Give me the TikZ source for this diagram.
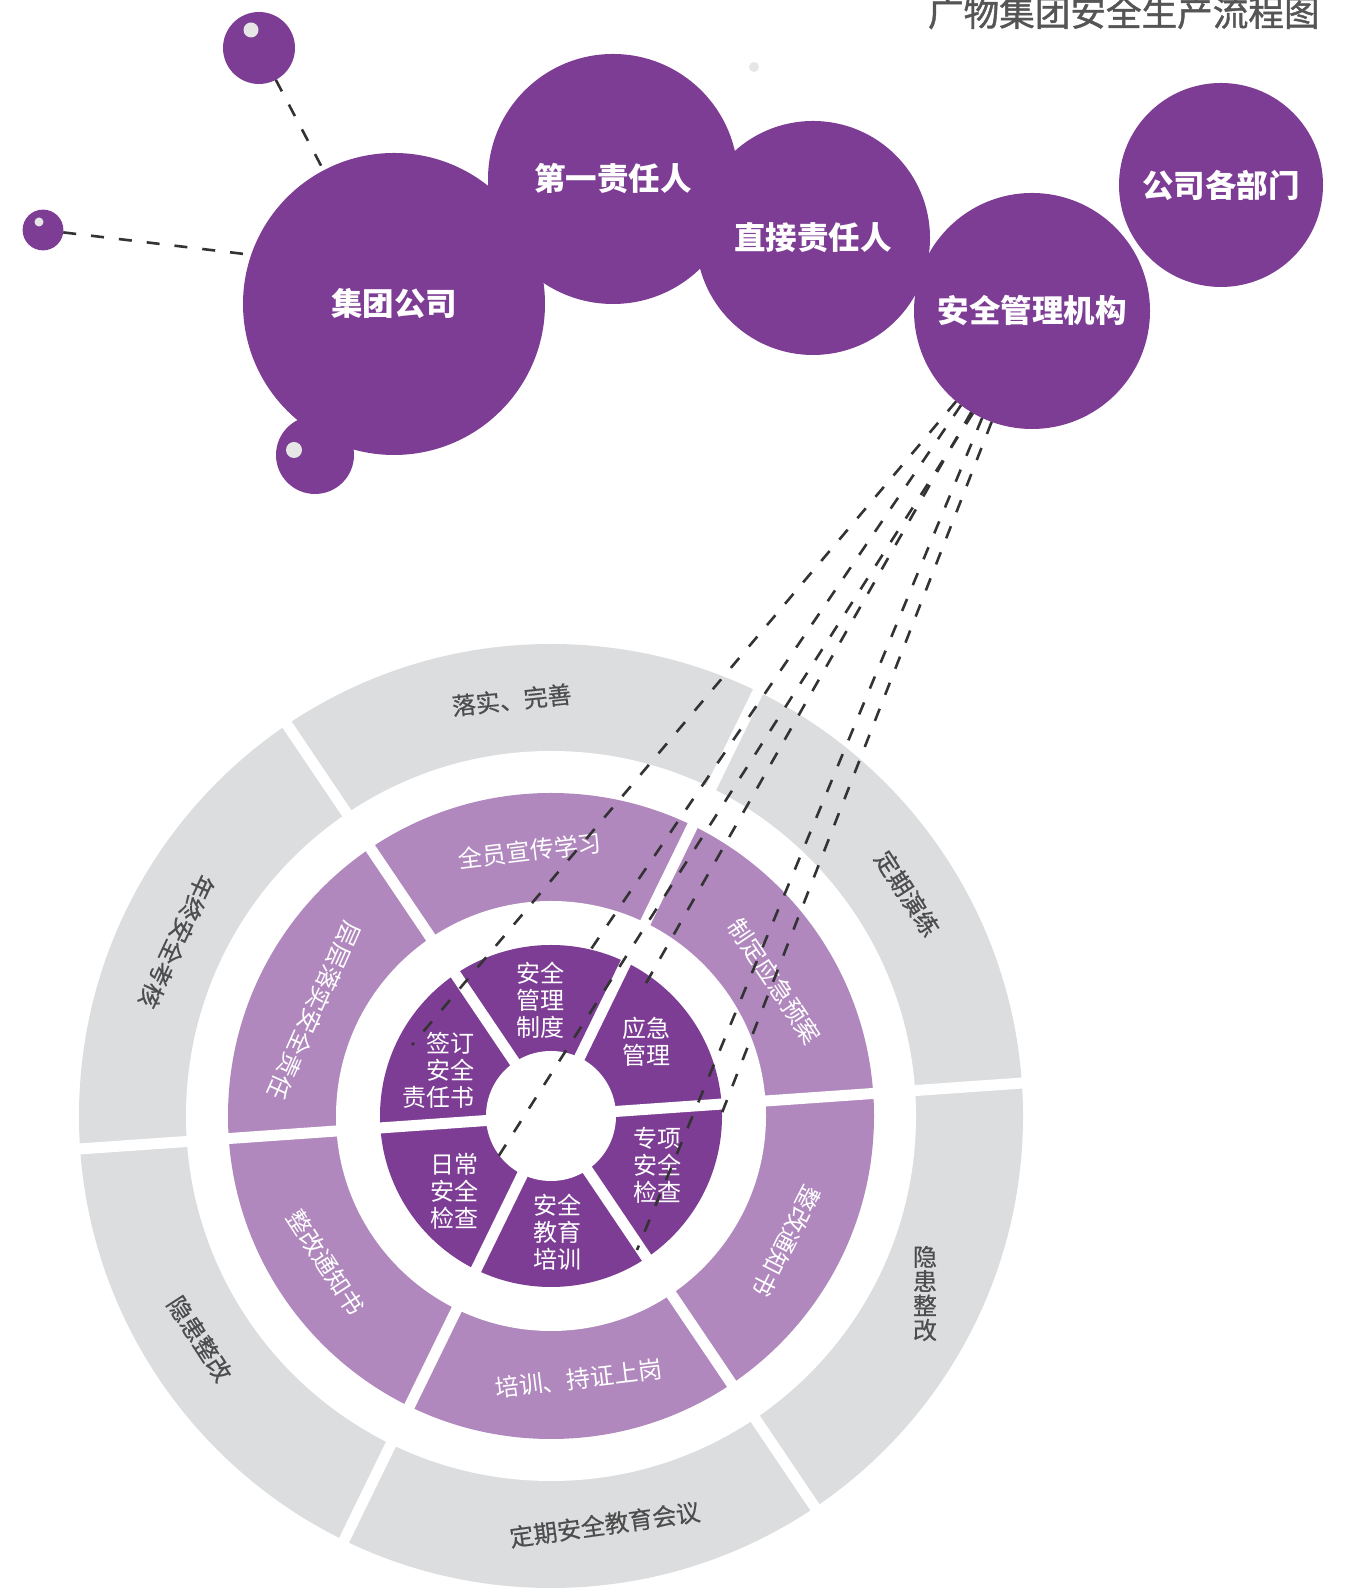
\documentclass[tikz,border=0pt]{standalone}
\usepackage{fontspec}
\setmainfont{Noto Sans CJK SC}
\newfontfamily\cjkheavy[FakeBold=1.2]{Noto Sans CJK SC}
\newfontfamily\cjkmid[FakeBold=0.5]{Noto Sans CJK SC}
\usetikzlibrary{calc,backgrounds}
\definecolor{GWPurple}{RGB}{126,61,149}
\definecolor{GWLilac}{RGB}{176,136,190}
\definecolor{GWGray}{RGB}{220,221,223}
\definecolor{GWText}{RGB}{77,77,77}
\definecolor{GWTitle}{RGB}{85,85,85}
\definecolor{GWShine}{RGB}{230,230,230}
\definecolor{GWLine}{RGB}{51,51,51}
\tikzset{
    bubble/.style={circle, fill=GWPurple, draw=none, inner sep=0pt, outer sep=0pt, text=white, font=\bfseries\fontsize{15.75}{18}\selectfont},
    shine/.style={fill=GWShine},
    linkline/.style={draw=GWLine, line width=1.3pt, dash pattern=on 6.5pt off 7.5pt}
}

\begin{document}
\begin{tikzpicture}[
        x=0.5pt, y=0.5pt,
        % --- CHỮ TRÊN VÒNG TRÒN ---
        outerlbl/.style={text=GWText, inner sep=0pt, align=center, font=\cjkmid\fontsize{12}{13.5}\selectfont},
        midlbl/.style={text=white, inner sep=0pt, align=center, font=\fontsize{12}{13.5}\selectfont},
        innerlbl/.style={text=white, inner sep=0pt, align=center, font=\fontsize{12}{13.5}\selectfont},
        % --- KHE TRẮNG GIỮA CÁC Ô ---
        gapline/.style={draw=white, line width=5.5pt}
    ]
        \useasboundingbox (0,0) rectangle (1350,1595);

        % --- TIÊU ĐỀ ---
        \node[anchor=base east, inner sep=0pt, text=GWTitle, font=\cjkheavy\fontsize{17.8}{20}\selectfont] (title) at (1320,1569) {广物集团安全生产流程图};

        % --- VÒNG TRÒN QUY TRÌNH ---
        \coordinate (C) at (551,479);
        \fill[GWGray] (C) circle (472);
        \fill[white] (C) circle (365);
        \fill[GWLilac] (C) circle (323);
        \fill[white] (C) circle (215);
        \fill[GWPurple] (C) circle (171);
        \fill[white] (C) circle (65);
        \foreach \a in {4,64,...,304}
            \draw[gapline] (C) -- ++(\a:485);

        % vòng ngoài
        \node[outerlbl, rotate=6] (luoshi) at ($(C)+(95.4:418)$) {落实、完善};
        \node[outerlbl, rotate=-57] (yanlian) at ($(C)+(32:420)$) {定期演练};
        \node[outerlbl, font=\cjkmid\fontsize{12}{12.2}\selectfont] (yinhuanR) at ($(C)+(-25.4:414)$) {隐\\患\\整\\改};
        \node[outerlbl, rotate=8] (huiyi) at ($(C)+(-82.5:412)$) {定期安全教育会议};
        \node[outerlbl, rotate=-57] (yinhuanL) at ($(C)+(212.4:416)$) {隐患整改};
        \node[outerlbl, rotate=-115] (kaohe) at ($(C)+(155:413)$) {年终安全考核};

        % vòng giữa
        \node[midlbl, rotate=7] (xuanchuan) at ($(C)+(94.5:266)$) {全员宣传学习};
        \node[midlbl, rotate=-56] (yuan) at ($(C)+(31:261)$) {制定应急预案};
        \node[midlbl, rotate=-117] (tongzhiR) at ($(C)+(-28:267)$) {整改通知书};
        \node[midlbl, rotate=7] (peixun) at ($(C)+(-84:264)$) {培训、持证上岗};
        \node[midlbl, rotate=-57] (tongzhiL) at ($(C)+(213:269)$) {整改通知书};
        \node[midlbl, rotate=-114] (zeren) at ($(C)+(156:259)$) {层层落实安全责任};

        % vòng trong
        \node[innerlbl] (zhidu) at ($(C)+(95.4:116.5)$) {安全\\管理\\制度};
        \node[innerlbl] (yingji) at ($(C)+(37.6:121)$) {应急\\管理};
        \node[innerlbl] (zhuanxiang) at ($(C)+(-24.8:117)$) {专项\\安全\\检查};
        \node[innerlbl] (jiaoyu) at ($(C)+(-87:116)$) {安全\\教育\\培训};
        \node[innerlbl] (richang) at ($(C)+(218:122)$) {日常\\安全\\检查};
        \node[innerlbl, align=right] (qianding) at ($(C)+(157.8:121.5)$) {签订\\安全\\责任书};

        % --- CÁC BONG BÓNG TRÊN ---
        \node[bubble, minimum size=151pt] (jituan) at (394,1291) {集团公司};
        \node[bubble, minimum size=125pt] (diyi) at (613,1416) {第一责任人};
        \node[bubble, minimum size=117pt] (zhijie) at (813,1357) {直接责任人};
        \node[bubble, minimum size=118pt] (jigou) at (1032,1284) {安全管理机构};
        \node[bubble, minimum size=102pt] (bumen) at (1221,1410) {公司各部门};
        % bóng nhỏ
        \node[bubble, minimum size=36pt] (dotA) at (259,1547) {};
        \node[bubble, minimum size=20.4pt] (dotB) at (43,1365) {};
        \node[bubble, minimum size=39pt] (dotC) at (315,1140) {};
        \fill[shine] (251,1565) circle (7.5);
        \fill[shine] (39,1373) circle (4.5);
        \fill[shine] (294,1145) circle (8);
        \fill[GWShine] (754,1528) circle (5);

        % --- ĐƯỜNG NÉT ĐỨT ---
        \draw[linkline] (dotA) -- (jituan);
        \draw[linkline] (dotB) -- (jituan.161);
        \coordinate (ptqian) at (412,550);
        \coordinate (ptzhidu) at (585,637);
        \coordinate (ptrichang) at (498,438);
        \coordinate (ptyingji) at (645,610);
        \coordinate (ptjiaoyu) at (637,345);
        \coordinate (ptzhuan) at (718,472);
        \draw[linkline] (jigou.230) -- (ptqian);
        \draw[linkline] (jigou.233) -- (ptzhidu);
        \draw[linkline] (jigou.240) -- (ptrichang);
        \draw[linkline] (jigou.239) -- (ptyingji);
        \draw[linkline] (jigou.245) -- (ptjiaoyu);
        \draw[linkline] (jigou.250) -- (ptzhuan);

    \end{tikzpicture}
\end{document}
